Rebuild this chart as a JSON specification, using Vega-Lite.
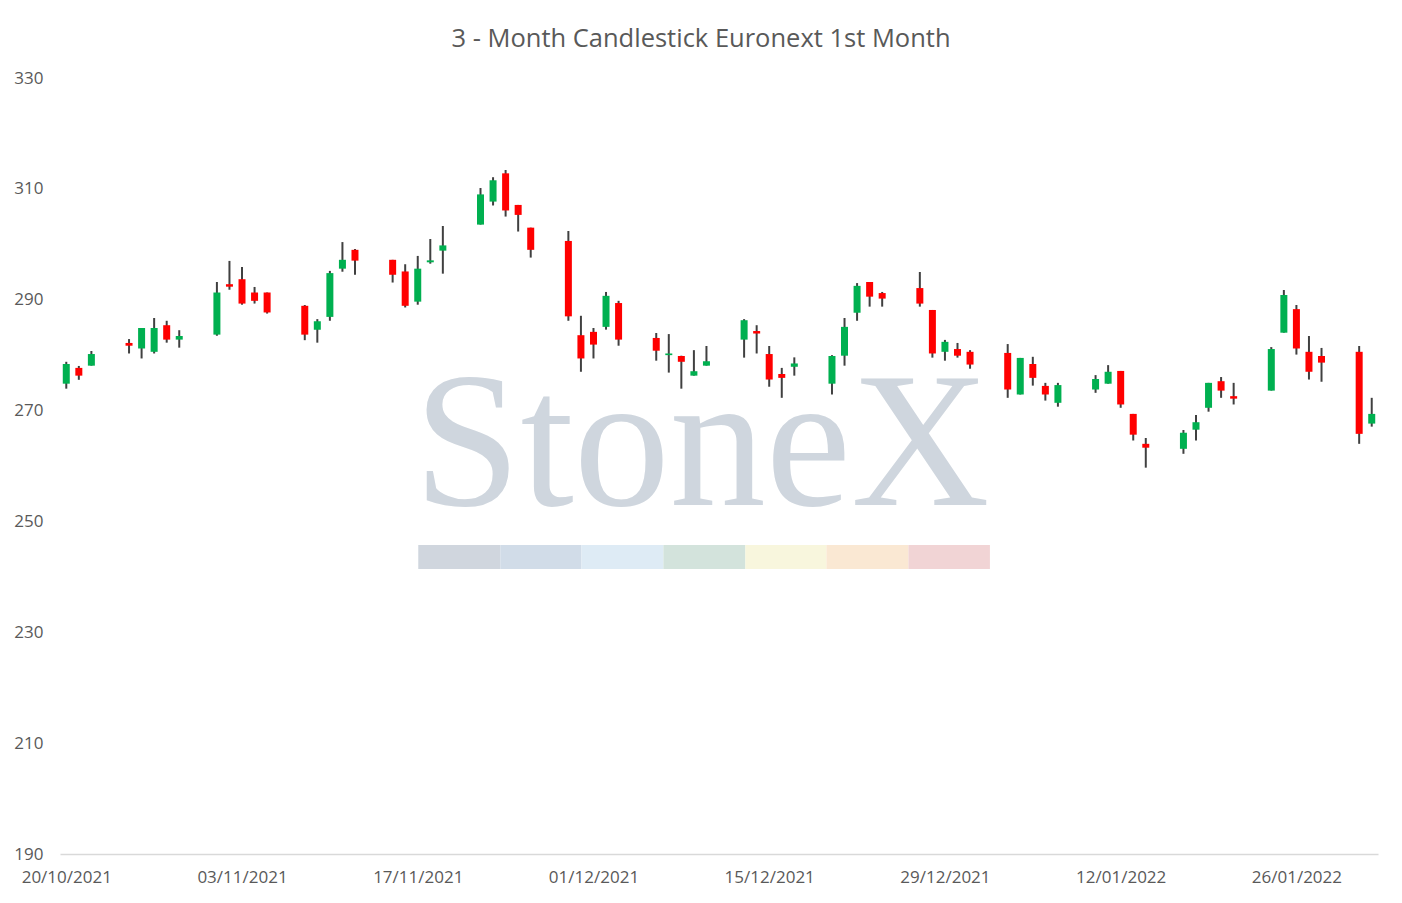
{
  "$schema": "https://vega.github.io/schema/vega-lite/v6.json",
  "width": 1318,
  "height": 776,
  "autosize": "none",
  "padding": {"left": 60, "top": 78, "right": 24, "bottom": 49},
  "background": "white",
  "title": {
    "text": "3 - Month Candlestick Euronext 1st Month",
    "font": "Open Sans",
    "fontSize": 25.5,
    "fontWeight": "normal",
    "color": "#595959",
    "anchor": "middle",
    "baseline": "alphabetic",
    "dx": -18,
    "offset": -3
  },
  "config": {
    "view": {"stroke": null},
    "scale": {"continuousPadding": 0},
    "axis": {"grid": false, "labelFont": "Open Sans", "labelColor": "#595959", "labelFontSize": 17}
  },
  "layer": [
    {
      "data": {"values": [{"date": "2021-12-09T15:00:00Z", "value": 253, "label": "StoneX"}]},
      "mark": {"type": "text", "font": "Liberation Serif", "fontSize": 192, "color": "#cfd6de", "align": "center", "baseline": "alphabetic"},
      "encoding": {
        "x": {
          "field": "date",
          "type": "temporal",
          "title": null,
          "scale": {"type": "utc", "padding": 0, "domain": ["2021-10-19T12:00:00Z", "2022-02-01T12:00:00Z"]},
          "axis": {
            "format": "%d/%m/%Y",
            "values": [
              {"year": 2021, "month": 10, "date": 20, "utc": true},
              {"year": 2021, "month": 11, "date": 3, "utc": true},
              {"year": 2021, "month": 11, "date": 17, "utc": true},
              {"year": 2021, "month": 12, "date": 1, "utc": true},
              {"year": 2021, "month": 12, "date": 15, "utc": true},
              {"year": 2021, "month": 12, "date": 29, "utc": true},
              {"year": 2022, "month": 1, "date": 12, "utc": true},
              {"year": 2022, "month": 1, "date": 26, "utc": true}
            ],
            "labelFlush": false,
            "labelPadding": 15,
            "ticks": false,
            "domainColor": "#d9d9d9",
            "domainWidth": 1.5
          }
        },
        "y": {
          "field": "value",
          "type": "quantitative",
          "title": null,
          "scale": {"domain": [190, 330], "nice": false, "zero": false},
          "axis": {
            "values": [190, 210, 230, 250, 270, 290, 310, 330],
            "domain": false,
            "ticks": false,
            "labelPadding": 17
          }
        },
        "text": {"field": "label"}
      }
    },
    {
      "data": {"values": [
        {"seg": "1", "start": "2021-11-17T01:00:00Z", "end": "2021-11-23T14:00:00Z", "top": 245.75, "bottom": 241.4},
        {"seg": "2", "start": "2021-11-23T14:00:00Z", "end": "2021-11-30T01:00:00Z", "top": 245.75, "bottom": 241.4},
        {"seg": "3", "start": "2021-11-30T01:00:00Z", "end": "2021-12-06T13:40:00Z", "top": 245.75, "bottom": 241.4},
        {"seg": "4", "start": "2021-12-06T13:40:00Z", "end": "2021-12-13T02:24:00Z", "top": 245.75, "bottom": 241.4},
        {"seg": "5", "start": "2021-12-13T02:24:00Z", "end": "2021-12-19T13:26:00Z", "top": 245.75, "bottom": 241.4},
        {"seg": "6", "start": "2021-12-19T13:26:00Z", "end": "2021-12-26T02:10:00Z", "top": 245.75, "bottom": 241.4},
        {"seg": "7", "start": "2021-12-26T02:10:00Z", "end": "2022-01-01T14:00:00Z", "top": 245.75, "bottom": 241.4}
      ]},
      "mark": {"type": "rect"},
      "encoding": {
        "x": {"field": "start", "type": "temporal", "scale": {"type": "utc"}},
        "x2": {"field": "end"},
        "y": {"field": "top", "type": "quantitative"},
        "y2": {"field": "bottom"},
        "color": {
          "field": "seg",
          "type": "nominal",
          "legend": null,
          "scale": {"domain": ["1", "2", "3", "4", "5", "6", "7"], "range": ["#d0d6de", "#d1dce8", "#deebf5", "#d3e3dc", "#f8f6dd", "#fae8d3", "#f1d4d5"]}
        }
      }
    },
    {
      "data": {"name": "prices"},
      "mark": {"type": "rule", "color": "#404040", "strokeWidth": 2},
      "encoding": {
        "x": {"field": "date", "type": "temporal", "scale": {"type": "utc"}},
        "y": {"field": "low", "type": "quantitative"},
        "y2": {"field": "high"}
      }
    },
    {
      "data": {"name": "prices"},
      "mark": {"type": "bar", "size": 7},
      "encoding": {
        "x": {"field": "date", "type": "temporal", "scale": {"type": "utc"}},
        "y": {"field": "open", "type": "quantitative"},
        "y2": {"field": "close"},
        "color": {
          "condition": {"test": "datum.open < datum.close", "value": "#00b050"},
          "value": "#ff0000"
        }
      }
    }
  ],
  "datasets": {
    "prices": [
      {"date": "2021-10-20", "open": 274.85, "high": 278.8, "low": 273.95, "close": 278.4},
      {"date": "2021-10-21", "open": 277.7, "high": 278.05, "low": 275.55, "close": 276.3},
      {"date": "2021-10-22", "open": 278.1, "high": 280.75, "low": 278.1, "close": 280.2},
      {"date": "2021-10-25", "open": 282.2, "high": 282.9, "low": 280.3, "close": 281.7},
      {"date": "2021-10-26", "open": 281.2, "high": 284.9, "low": 279.4, "close": 284.9},
      {"date": "2021-10-27", "open": 280.6, "high": 286.7, "low": 280.3, "close": 284.9},
      {"date": "2021-10-28", "open": 285.4, "high": 286.2, "low": 282.25, "close": 282.8},
      {"date": "2021-10-29", "open": 282.8, "high": 284.5, "low": 281.35, "close": 283.45},
      {"date": "2021-11-01", "open": 283.7, "high": 293.2, "low": 283.5, "close": 291.3},
      {"date": "2021-11-02", "open": 292.8, "high": 297.0, "low": 291.8, "close": 292.35},
      {"date": "2021-11-03", "open": 293.7, "high": 295.9, "low": 289.1, "close": 289.3},
      {"date": "2021-11-04", "open": 291.3, "high": 292.3, "low": 289.3, "close": 289.8},
      {"date": "2021-11-05", "open": 291.3, "high": 291.3, "low": 287.5, "close": 287.7},
      {"date": "2021-11-08", "open": 288.9, "high": 289.05, "low": 282.7, "close": 283.7},
      {"date": "2021-11-09", "open": 284.6, "high": 286.5, "low": 282.25, "close": 286.1},
      {"date": "2021-11-10", "open": 286.9, "high": 295.2, "low": 286.2, "close": 294.8},
      {"date": "2021-11-11", "open": 295.6, "high": 300.4, "low": 295.05, "close": 297.2},
      {"date": "2021-11-12", "open": 299.0, "high": 299.15, "low": 294.5, "close": 297.05},
      {"date": "2021-11-15", "open": 297.2, "high": 297.2, "low": 293.1, "close": 294.5},
      {"date": "2021-11-16", "open": 295.1, "high": 296.4, "low": 288.6, "close": 288.9},
      {"date": "2021-11-17", "open": 289.65, "high": 297.9, "low": 289.1, "close": 295.6},
      {"date": "2021-11-18", "open": 296.75, "high": 300.95, "low": 296.5, "close": 297.1},
      {"date": "2021-11-19", "open": 298.85, "high": 303.3, "low": 294.7, "close": 299.8},
      {"date": "2021-11-22", "open": 303.55, "high": 310.15, "low": 303.55, "close": 309.0},
      {"date": "2021-11-23", "open": 307.7, "high": 312.1, "low": 307.0, "close": 311.55},
      {"date": "2021-11-24", "open": 312.8, "high": 313.4, "low": 305.0, "close": 306.1},
      {"date": "2021-11-25", "open": 307.1, "high": 307.1, "low": 302.3, "close": 305.3},
      {"date": "2021-11-26", "open": 303.0, "high": 303.0, "low": 297.6, "close": 299.0},
      {"date": "2021-11-29", "open": 300.6, "high": 302.4, "low": 286.2, "close": 287.0},
      {"date": "2021-11-30", "open": 283.6, "high": 287.1, "low": 277.0, "close": 279.4},
      {"date": "2021-12-01", "open": 284.2, "high": 284.9, "low": 279.4, "close": 281.9},
      {"date": "2021-12-02", "open": 285.1, "high": 291.4, "low": 284.6, "close": 290.7},
      {"date": "2021-12-03", "open": 289.4, "high": 289.8, "low": 281.7, "close": 282.8},
      {"date": "2021-12-06", "open": 283.1, "high": 284.0, "low": 279.0, "close": 280.8},
      {"date": "2021-12-07", "open": 280.0, "high": 283.8, "low": 276.85, "close": 280.3},
      {"date": "2021-12-08", "open": 279.85, "high": 279.9, "low": 273.95, "close": 278.8},
      {"date": "2021-12-09", "open": 276.3, "high": 280.9, "low": 276.3, "close": 277.1},
      {"date": "2021-12-10", "open": 278.1, "high": 281.65, "low": 278.1, "close": 278.9},
      {"date": "2021-12-13", "open": 282.8, "high": 286.5, "low": 279.55, "close": 286.3},
      {"date": "2021-12-14", "open": 284.35, "high": 285.4, "low": 280.3, "close": 283.9},
      {"date": "2021-12-15", "open": 280.2, "high": 281.65, "low": 274.3, "close": 275.6},
      {"date": "2021-12-16", "open": 276.6, "high": 277.7, "low": 272.3, "close": 275.9},
      {"date": "2021-12-17", "open": 277.9, "high": 279.6, "low": 276.3, "close": 278.5},
      {"date": "2021-12-20", "open": 274.85, "high": 280.0, "low": 272.9, "close": 279.85},
      {"date": "2021-12-21", "open": 279.9, "high": 286.7, "low": 278.1, "close": 285.1},
      {"date": "2021-12-22", "open": 287.65, "high": 293.0, "low": 286.2, "close": 292.5},
      {"date": "2021-12-23", "open": 293.2, "high": 293.2, "low": 288.75, "close": 290.55},
      {"date": "2021-12-24", "open": 291.2, "high": 291.4, "low": 288.75, "close": 290.2},
      {"date": "2021-12-27", "open": 292.1, "high": 295.0, "low": 288.75, "close": 289.3},
      {"date": "2021-12-28", "open": 288.15, "high": 288.15, "low": 279.55, "close": 280.3},
      {"date": "2021-12-29", "open": 280.6, "high": 282.75, "low": 279.0, "close": 282.4},
      {"date": "2021-12-30", "open": 281.1, "high": 282.2, "low": 279.55, "close": 279.9},
      {"date": "2021-12-31", "open": 280.6, "high": 280.9, "low": 277.55, "close": 278.3},
      {"date": "2022-01-03", "open": 280.4, "high": 282.0, "low": 272.3, "close": 273.8},
      {"date": "2022-01-04", "open": 272.9, "high": 279.5, "low": 272.9, "close": 279.5},
      {"date": "2022-01-05", "open": 278.4, "high": 279.7, "low": 274.5, "close": 275.9},
      {"date": "2022-01-06", "open": 274.45, "high": 275.0, "low": 271.8, "close": 272.9},
      {"date": "2022-01-07", "open": 271.4, "high": 275.0, "low": 270.7, "close": 274.6},
      {"date": "2022-01-10", "open": 273.8, "high": 276.4, "low": 273.2, "close": 275.7},
      {"date": "2022-01-11", "open": 274.85, "high": 278.2, "low": 274.85, "close": 277.0},
      {"date": "2022-01-12", "open": 277.15, "high": 277.15, "low": 270.5, "close": 271.1},
      {"date": "2022-01-13", "open": 269.4, "high": 269.4, "low": 264.6, "close": 265.65},
      {"date": "2022-01-14", "open": 264.0, "high": 265.05, "low": 259.7, "close": 263.3},
      {"date": "2022-01-17", "open": 263.1, "high": 266.5, "low": 262.2, "close": 266.0},
      {"date": "2022-01-18", "open": 266.55, "high": 269.2, "low": 264.6, "close": 267.9},
      {"date": "2022-01-19", "open": 270.5, "high": 275.0, "low": 269.8, "close": 275.0},
      {"date": "2022-01-20", "open": 275.3, "high": 276.05, "low": 272.3, "close": 273.6},
      {"date": "2022-01-21", "open": 272.6, "high": 275.0, "low": 271.1, "close": 272.15},
      {"date": "2022-01-24", "open": 273.6, "high": 281.45, "low": 273.6, "close": 281.1},
      {"date": "2022-01-25", "open": 284.05, "high": 291.75, "low": 284.05, "close": 290.85},
      {"date": "2022-01-26", "open": 288.3, "high": 289.05, "low": 280.1, "close": 281.2},
      {"date": "2022-01-27", "open": 280.6, "high": 283.45, "low": 275.6, "close": 277.0},
      {"date": "2022-01-28", "open": 279.85, "high": 281.3, "low": 275.2, "close": 278.65},
      {"date": "2022-01-31", "open": 280.6, "high": 281.65, "low": 264.0, "close": 265.8},
      {"date": "2022-02-01", "open": 267.65, "high": 272.3, "low": 267.1, "close": 269.4}
    ]
  }
}
